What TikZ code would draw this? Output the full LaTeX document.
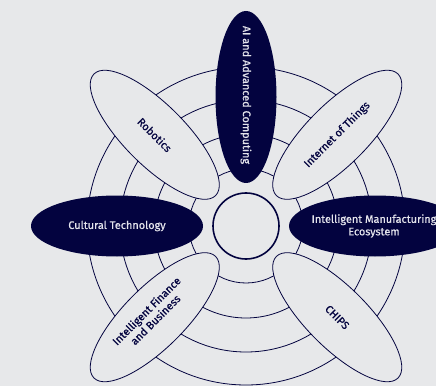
\documentclass[tikz,border=0pt]{standalone}
\usepackage{fontspec}
\setmainfont{Fira Sans}
\newfontfamily\petalfont{Fira Sans}[FakeBold=0.7]
\usetikzlibrary{shapes.geometric,calc}
\definecolor{bg}{HTML}{E7E8EA}
\definecolor{navy}{HTML}{03033F}
\definecolor{light}{HTML}{E4E4EC}
\tikzset{
  ring/.style={draw=navy, line width=0.8pt},
  petal/.style={ellipse, minimum width=172pt, minimum height=61pt, inner sep=0pt},
  openpetal/.style={petal, draw=navy, line width=0.8pt, fill=bg},
  solidpetal/.style={petal, fill=navy},
  label text/.style={inner sep=0pt, align=center, font=\petalfont\fontsize{10.9}{12.5}\selectfont},
  darktext/.style={label text, text=navy},
  lighttext/.style={label text, text=light},
}
\begin{document}
\begin{tikzpicture}[x=1pt,y=1pt]
\fill[bg] (0,0) rectangle (436,386);
\useasboundingbox (0,0) rectangle (436,386);
\clip (0,0) rectangle (436,386);
\coordinate (C) at (246,160);
\foreach \r in {57,92,126,159} \draw[ring] (C) circle[radius=\r];
\draw[navy, line width=1.6pt, fill=bg] (C) circle[radius=33];
\node[solidpetal, rotate=-90] (ai) at ($(C)+(90:129)$) {};
\node[openpetal, rotate=45] (iot) at ($(C)+(45:129)$) {};
\node[solidpetal] (ime) at ($(C)+(0:129)$) {};
\node[openpetal, rotate=-45] (chips) at ($(C)+(-45:129)$) {};
\node[openpetal, rotate=45] (fin) at ($(C)+(225:129)$) {};
\node[solidpetal] (cult) at ($(C)+(180:129)$) {};
\node[openpetal, rotate=-45] (rob) at ($(C)+(135:129)$) {};
\node[lighttext, rotate=-90] (aiT) at ($(ai.center)+(0,2)$) {AI and Advanced Computing};
\node[darktext, rotate=45] (iotT) at (iot.center) {Internet of Things};
\node[lighttext] (imeT) at ($(ime.center)+(-1,0)$) {Intelligent Manufacturing\\Ecosystem};
\node[darktext, rotate=-45] (chipsT) at (chips.center) {CHIPS};
\node[darktext, rotate=45] (finT) at ($(fin.center)+(-4,2)$) {Intelligent Finance\\and Business};
\node[lighttext] (cultT) at (cult.center) {Cultural Technology};
\node[darktext, rotate=-45] (robT) at (rob.center) {Robotics};
\end{tikzpicture}
\end{document}
